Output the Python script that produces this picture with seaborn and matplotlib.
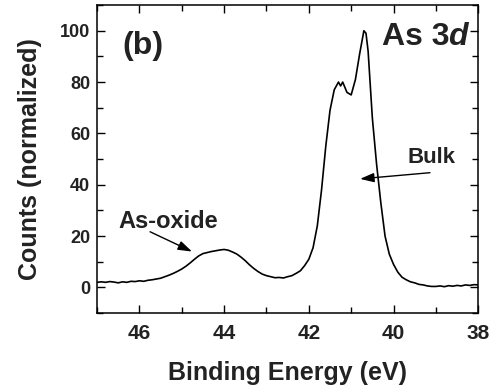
import numpy as np
import pandas as pd
import seaborn as sns
import matplotlib.pyplot as plt
from matplotlib.ticker import MultipleLocator

# Binding energy (eV) and normalized counts
energy = [47.0, 46.9, 46.8, 46.7, 46.6, 46.5, 46.4, 46.3, 46.2, 46.1,
          46.0, 45.9, 45.8, 45.7, 45.6, 45.5, 45.4, 45.3, 45.2, 45.1,
          45.0, 44.9, 44.8, 44.7, 44.6, 44.5, 44.4, 44.3, 44.2, 44.1,
          44.0, 43.9, 43.8, 43.7, 43.6, 43.5, 43.4, 43.3, 43.2, 43.1,
          43.0, 42.9, 42.8, 42.7, 42.6, 42.5, 42.4, 42.3, 42.2, 42.1,
          42.0, 41.9, 41.8, 41.7, 41.6, 41.5, 41.4, 41.3, 41.25, 41.2,
          41.1, 41.0, 40.9, 40.8, 40.7, 40.65, 40.6, 40.5, 40.4, 40.3,
          40.2, 40.1, 40.0, 39.9, 39.8, 39.7, 39.6, 39.5, 39.4, 39.3,
          39.2, 39.1, 39.0, 38.9, 38.8, 38.7, 38.6, 38.5, 38.4, 38.3,
          38.2, 38.1, 38.0]
counts = [2.0, 2.2, 2.0, 2.3, 2.1, 1.8, 2.2, 2.0, 2.4, 2.3,
          2.6, 2.4, 2.8, 3.0, 3.3, 3.6, 4.2, 4.8, 5.5, 6.3,
          7.2, 8.3, 9.6, 11.0, 12.3, 13.2, 13.6, 14.0, 14.3, 14.6,
          14.8, 14.5, 13.8, 13.0, 11.8, 10.4, 8.8, 7.4, 6.2, 5.2,
          4.6, 4.2, 3.8, 3.9, 3.7, 4.2, 4.6, 5.5, 6.5, 8.5,
          11.0, 15.5, 24.0, 38.0, 55.0, 69.0, 77.0, 80.0, 78.5, 80.0,
          76.0, 75.0, 81.0, 91.0, 100.0, 99.0, 92.0, 66.0, 48.0, 33.0,
          20.0, 13.0, 9.0, 6.0, 4.0, 3.0, 2.2, 1.8, 1.2, 1.0,
          0.6, 0.4, 0.4, 0.6, 0.3, 0.7, 0.5, 0.8, 0.6, 1.0,
          0.8, 1.1, 1.0]

xticks = [46, 44, 42, 40, 38]
yticks = [0, 20, 40, 60, 80, 100]

df = pd.DataFrame({"energy": energy, "counts": counts})

sns.set_style("ticks")
plt.rcParams['font.family'] = ['Liberation Sans', 'DejaVu Sans']
plt.rcParams['font.weight'] = 'bold'
plt.rcParams['axes.labelweight'] = 'bold'

txt = '#222222'
fig = plt.figure(figsize=(4.93, 3.89), dpi=100)
ax = fig.add_axes([0.197, 0.195, 0.773, 0.792])

sns.lineplot(data=df, x="energy", y="counts", ax=ax, color='black',
             linewidth=1.2, sort=False)

ax.set_xlim(47, 38)
ax.set_ylim(-10, 110)
ax.set_xticks(xticks)
ax.set_yticks(yticks)
ax.xaxis.set_minor_locator(MultipleLocator(1))
ax.yaxis.set_minor_locator(MultipleLocator(10))
ax.tick_params(which='both', direction='in', top=True, right=True,
               color='black', width=1.0)
ax.tick_params(which='major', length=6)
ax.tick_params(which='minor', length=4)
ax.tick_params(axis='x', labelsize=15, pad=8, labelcolor=txt)
ax.tick_params(axis='y', labelsize=13, pad=5, labelcolor=txt)
for s in ax.spines.values():
    s.set_linewidth(1.1)
    s.set_color('black')

ax.set_xlabel("Binding Energy (eV)", fontsize=18, fontweight='bold',
              color=txt, labelpad=13)
ax.set_ylabel("Counts (normalized)", fontsize=18, fontweight='bold',
              color=txt, labelpad=13)

ax.text(0.066, 0.840, "(b)", transform=ax.transAxes, fontsize=23,
        fontweight='bold', color=txt, ha='left', va='baseline')
ax.text(0.925, 0.870, "As 3", transform=ax.transAxes, fontsize=23,
        fontweight='bold', color=txt, ha='right', va='baseline')
ax.text(0.922, 0.870, "d", transform=ax.transAxes, fontsize=23,
        fontweight='bold', style='italic', color=txt, ha='left',
        va='baseline')
ax.text(0.814, 0.487, "Bulk", transform=ax.transAxes, fontsize=16,
        fontweight='bold', color=txt, ha='left', va='baseline')
ax.text(0.055, 0.276, "As-oxide", transform=ax.transAxes, fontsize=17,
        fontweight='bold', color=txt, ha='left', va='baseline')

arrow = dict(arrowstyle='-|>,head_length=0.6,head_width=0.2', color='black',
             lw=1.0, mutation_scale=14, shrinkA=0, shrinkB=0)
ax.annotate("", xy=(40.79, 42.3), xytext=(39.14, 44.7), arrowprops=arrow)
ax.annotate("", xy=(44.76, 14.0), xytext=(45.75, 21.7), arrowprops=arrow)

fig.savefig("out.png", dpi=100)
